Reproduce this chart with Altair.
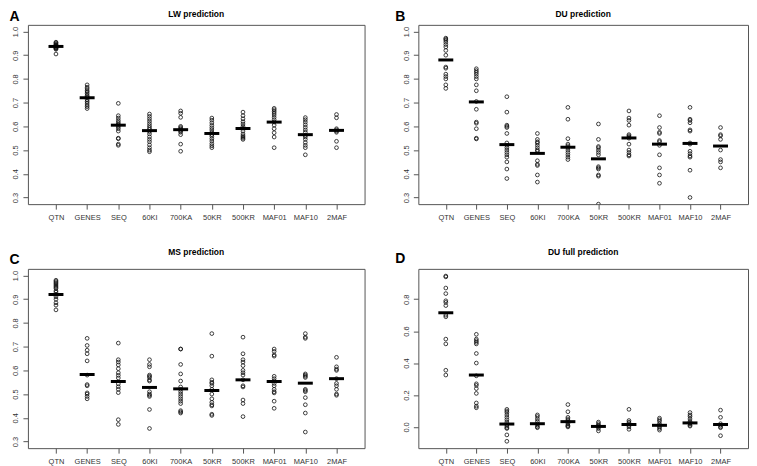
import altair as alt
import pandas as pd

CATEGORIES = ["QTN", "GENES", "SEQ", "60KI", "700KA", "50KR", "500KR", "MAF01", "MAF10", "2MAF"]

LW_POINTS = [
    [0.955, 0.952, 0.948, 0.945, 0.942, 0.94, 0.938, 0.935, 0.932, 0.93, 0.928, 0.925, 0.905],
    [0.775, 0.765, 0.758, 0.75, 0.745, 0.738, 0.73, 0.725, 0.72, 0.712, 0.705, 0.698, 0.69, 0.683, 0.675],
    [0.697, 0.645, 0.635, 0.625, 0.617, 0.61, 0.605, 0.598, 0.59, 0.58, 0.55, 0.548, 0.525, 0.52],
    [0.652, 0.642, 0.632, 0.622, 0.612, 0.603, 0.595, 0.588, 0.578, 0.568, 0.556, 0.545, 0.535, 0.522, 0.51, 0.5, 0.493],
    [0.665, 0.655, 0.638, 0.6, 0.595, 0.59, 0.585, 0.58, 0.575, 0.565, 0.525, 0.495],
    [0.635, 0.626, 0.615, 0.604, 0.594, 0.585, 0.575, 0.565, 0.558, 0.548, 0.538, 0.527, 0.518, 0.51],
    [0.66, 0.645, 0.632, 0.62, 0.61, 0.6, 0.592, 0.58, 0.568, 0.56, 0.555, 0.55, 0.545],
    [0.676, 0.67, 0.663, 0.656, 0.648, 0.638, 0.628, 0.618, 0.605, 0.59, 0.573, 0.555, 0.51],
    [0.637, 0.628, 0.618, 0.607, 0.596, 0.585, 0.575, 0.562, 0.555, 0.545, 0.532, 0.52, 0.51, 0.48],
    [0.65, 0.636, 0.59, 0.585, 0.58, 0.575, 0.537, 0.51],
]
LW_MEANS = [0.937, 0.721, 0.605, 0.582, 0.586, 0.570, 0.591, 0.618, 0.565, 0.583]

DU_POINTS = [
    [0.972, 0.968, 0.963, 0.955, 0.945, 0.935, 0.92, 0.9, 0.85, 0.845, 0.82, 0.81, 0.8, 0.775, 0.76],
    [0.843, 0.835, 0.828, 0.82, 0.81, 0.8, 0.775, 0.75, 0.705, 0.672, 0.618, 0.613, 0.59, 0.55, 0.547],
    [0.725, 0.66, 0.605, 0.6, 0.595, 0.57, 0.53, 0.52, 0.51, 0.5, 0.49, 0.48, 0.47, 0.45, 0.42, 0.38],
    [0.57, 0.545, 0.535, 0.53, 0.52, 0.51, 0.5, 0.495, 0.455, 0.44, 0.435, 0.395, 0.365],
    [0.68, 0.63, 0.548, 0.525, 0.518, 0.51, 0.5, 0.49, 0.48, 0.47, 0.46],
    [0.61, 0.545, 0.515, 0.51, 0.5, 0.49, 0.48, 0.43, 0.425, 0.42, 0.395, 0.39, 0.272],
    [0.665, 0.635, 0.625, 0.605, 0.565, 0.56, 0.555, 0.55, 0.525, 0.5, 0.49, 0.48, 0.475],
    [0.645, 0.595, 0.575, 0.57, 0.54, 0.535, 0.52, 0.48, 0.425, 0.395, 0.36],
    [0.68, 0.63, 0.625, 0.615, 0.585, 0.58, 0.53, 0.525, 0.495, 0.485, 0.475, 0.47, 0.415, 0.3],
    [0.595, 0.565, 0.56, 0.545, 0.5, 0.46, 0.45, 0.425],
]
DU_MEANS = [0.88, 0.703, 0.523, 0.486, 0.512, 0.463, 0.551, 0.525, 0.528, 0.517]

MS_POINTS = [
    [0.98, 0.975, 0.97, 0.965, 0.96, 0.955, 0.95, 0.945, 0.935, 0.93, 0.92, 0.91, 0.9, 0.885, 0.875, 0.855],
    [0.735, 0.705, 0.685, 0.67, 0.64, 0.58, 0.54, 0.535, 0.505, 0.5, 0.49, 0.48],
    [0.715, 0.645, 0.635, 0.623, 0.607, 0.59, 0.579, 0.568, 0.543, 0.531, 0.52, 0.506, 0.392, 0.372],
    [0.645, 0.625, 0.615, 0.58, 0.575, 0.57, 0.56, 0.555, 0.51, 0.5, 0.495, 0.49, 0.435, 0.355],
    [0.69, 0.69, 0.625, 0.585, 0.555, 0.53, 0.52, 0.51, 0.5, 0.49, 0.48, 0.47, 0.46, 0.43, 0.425, 0.42],
    [0.755, 0.66, 0.56, 0.55, 0.545, 0.535, 0.52, 0.5, 0.48, 0.465, 0.455, 0.45, 0.415, 0.41],
    [0.74, 0.67, 0.645, 0.635, 0.62, 0.6, 0.59, 0.58, 0.56, 0.535, 0.53, 0.475, 0.46, 0.405],
    [0.69, 0.68, 0.665, 0.66, 0.575, 0.565, 0.555, 0.545, 0.535, 0.52, 0.51, 0.505, 0.47, 0.44],
    [0.755, 0.74, 0.735, 0.585, 0.58, 0.575, 0.57, 0.52, 0.515, 0.51, 0.485, 0.455, 0.42, 0.34],
    [0.655, 0.615, 0.605, 0.6, 0.565, 0.545, 0.535, 0.52, 0.5, 0.495],
]
MS_MEANS = [0.92, 0.583, 0.553, 0.528, 0.522, 0.515, 0.56, 0.553, 0.546, 0.565]

DUF_POINTS = [
    [0.945, 0.94, 0.87, 0.835, 0.79, 0.78, 0.76, 0.7, 0.69, 0.55, 0.52, 0.355, 0.325],
    [0.58, 0.55, 0.54, 0.53, 0.52, 0.46, 0.4, 0.32, 0.27, 0.26, 0.24, 0.21, 0.15, 0.13, 0.12],
    [0.11, 0.1, 0.09, 0.075, 0.06, 0.045, 0.03, 0.015, 0.005, -0.005, -0.01, -0.05, -0.09],
    [0.075, 0.065, 0.05, 0.035, 0.02, 0.01, 0.0, -0.005],
    [0.14, 0.095, 0.06, 0.05, 0.04, 0.03, 0.02, 0.01, 0.005, 0.0],
    [0.03, 0.02, 0.01, 0.005, 0.0, -0.01, -0.025],
    [0.11, 0.04, 0.03, 0.02, 0.01, 0.0, -0.015],
    [0.055, 0.045, 0.035, 0.02, 0.01, 0.0, -0.01, -0.02],
    [0.09, 0.075, 0.065, 0.05, 0.035, 0.025, 0.02, 0.01, 0.005],
    [0.105, 0.06, 0.02, 0.01, 0.0, -0.005, -0.055],
]
DUF_MEANS = [0.715, 0.325, 0.018, 0.02, 0.033, 0.003, 0.015, 0.01, 0.025, 0.015]

TICKS_R = [0.3, 0.4, 0.5, 0.6, 0.7, 0.8, 0.9, 1.0]
TICKS_D = [0.0, 0.2, 0.4, 0.6, 0.8]
DOMAIN_R = [0.272, 1.028]
DOMAIN_D = [-0.133, 0.99]

FONT = "Liberation Sans"


def panel(title, letter, points, means, domain, ticks, width, height,
          letter_x, letter_y, title_y):
    pts = pd.DataFrame({
        "group": [c for c, vs in zip(CATEGORIES, points) for _ in vs],
        "value": [v for vs in points for v in vs],
    })
    mns = pd.DataFrame({"group": CATEGORIES, "value": means})
    xenc = alt.X("group:N", sort=CATEGORIES,
                 scale=alt.Scale(type="point", padding=0.9),
                 axis=alt.Axis(title=None, labelAngle=0, tickSize=5, labelPadding=4,
                               labelFontSize=7.5))
    yenc = alt.Y("value:Q", scale=alt.Scale(domain=domain, nice=False, zero=False),
                 axis=alt.Axis(title=None, values=ticks, format=".1f", labelAngle=270,
                               labelAlign="center", labelBaseline="bottom",
                               tickSize=5, labelPadding=3, labelFontSize=7.5))
    p = alt.Chart(pts).mark_point(shape="circle", filled=False, size=14,
                                  strokeWidth=0.8, color="#111", opacity=1,
                                  clip=True).encode(x=xenc, y=yenc)
    m = alt.Chart(mns).mark_tick(thickness=3, size=15, color="black",
                                 opacity=1).encode(x=xenc, y=yenc)
    lab = alt.Chart(pd.DataFrame({"t": [letter]})).mark_text(
        font=FONT, fontSize=14, fontWeight="bold", align="left",
        baseline="top", color="black"
    ).encode(text="t:N", x=alt.value(letter_x), y=alt.value(letter_y))
    ttl = alt.Chart(pd.DataFrame({"t": [title]})).mark_text(
        font=FONT, fontSize=8.5, fontWeight="bold", align="center",
        baseline="top", color="black"
    ).encode(text="t:N", x=alt.value(width / 2), y=alt.value(title_y))
    return alt.layer(p, m, lab, ttl).properties(width=width, height=height)


W1, W2, H = 338, 331, 180

pa = panel("LW prediction", "A", LW_POINTS, LW_MEANS, DOMAIN_R, TICKS_R, W1, H, -18.6, -15, -15)
pb = panel("DU prediction", "B", DU_POINTS, DU_MEANS, DOMAIN_R, TICKS_R, W2, H, -23.3, -15, -15)
pc = panel("MS prediction", "C", MS_POINTS, MS_MEANS, DOMAIN_R, TICKS_R, W1, H, -18.6, -15.5, -21)
pd_ = panel("DU full prediction", "D", DUF_POINTS, DUF_MEANS, DOMAIN_D, TICKS_D, W2, H, -23.3, -16.5, -21)

chart = alt.concat(
    pa, pb, pc, pd_, columns=2, spacing={"row": 65, "column": 54}, bounds="flush"
).properties(padding=0).configure_view(
    stroke="#555", strokeWidth=1
).configure_axis(
    labelFont=FONT, labelColor="#333", tickColor="#555", domain=False, grid=False
)

chart.save("out.html", embed_options={"renderer": "svg", "actions": False})
